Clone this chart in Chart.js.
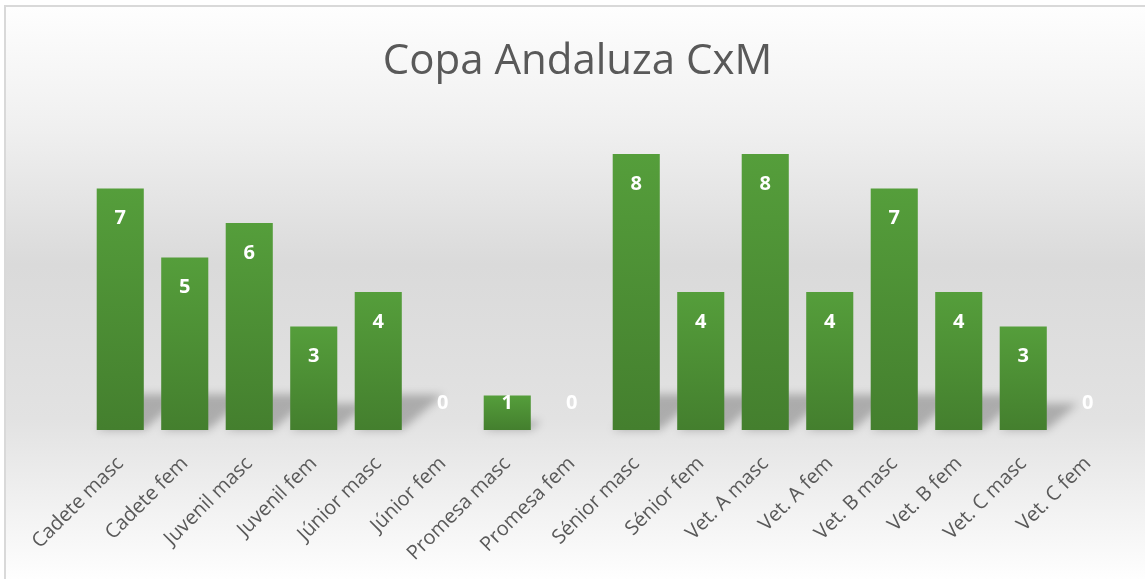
<!DOCTYPE html>
<html>
<head>
<meta charset="utf-8">
<script src="https://cdn.jsdelivr.net/npm/chart.js@4.4.1/dist/chart.umd.min.js"></script>
<style>
html,body{margin:0;padding:0;background:#fff;}
#wrap{position:relative;width:1145px;height:579px;}
</style>
</head>
<body>
<div id="wrap"><canvas id="c" width="1145" height="579"></canvas></div>
<script>
const categories = ["Cadete masc","Cadete fem","Juvenil masc","Juvenil fem","Júnior masc","Júnior fem","Promesa masc","Promesa fem","Sénior masc","Sénior fem","Vet. A masc","Vet. A fem","Vet. B masc","Vet. B fem","Vet. C masc","Vet. C fem"];
const values = [7,5,6,3,4,0,1,0,8,4,8,4,7,4,3,0];
const chartTitle = "Copa Andaluza CxM";

const bgPlugin = {
  id: 'bg',
  beforeDraw(chart){
    const c = chart.ctx, w = chart.width, h = chart.height;
    c.save();
    c.fillStyle = '#ffffff';
    c.fillRect(0,0,w,h);
    const g = c.createLinearGradient(0,7,0,h);
    g.addColorStop(0,'#fefefe');
    g.addColorStop(0.22,'#efefef');
    g.addColorStop(0.45,'#dadada');
    g.addColorStop(0.72,'#e2e2e2');
    g.addColorStop(1,'#fefefe');
    c.fillStyle = g;
    c.fillRect(6,7,w,h);
    c.strokeStyle = '#d9d9d9';
    c.lineWidth = 2;
    c.strokeRect(5,6,w+10,h+10);
    c.restore();
  }
};

const shadowPlugin = {
  id: 'barShadow',
  beforeDatasetsDraw(chart){
    const c = chart.ctx;
    const meta = chart.getDatasetMeta(0);
    c.save();
    c.filter = 'blur(4px)';
    c.fillStyle = 'rgba(0,0,0,0.24)';
    meta.data.forEach((bar)=>{
      const hgt = bar.base - bar.y;
      if (hgt < 1) return;
      const half = bar.width/2;
      const left = bar.x - half, right = bar.x + half;
      const k = Math.min(hgt*0.3, 42);
      c.beginPath();
      c.moveTo(left, bar.base);
      c.lineTo(right, bar.base);
      c.lineTo(right + k, bar.base - k*0.85);
      c.lineTo(left + k, bar.base - k*0.85);
      c.closePath();
      c.fill();
    });
    c.restore();
  }
};

const labelPlugin = {
  id: 'vlabels',
  afterDatasetsDraw(chart){
    const c = chart.ctx;
    const meta = chart.getDatasetMeta(0);
    c.save();
    c.fillStyle = '#ffffff';
    c.font = 'bold 20px "Open Sans"';
    c.textAlign = 'center';
    c.textBaseline = 'middle';
    meta.data.forEach((bar,i)=>{
      const y = Math.min(bar.y + 30, bar.base - 27);
      c.fillText(String(values[i]), bar.x, y);
    });
    c.restore();
  }
};

new Chart(document.getElementById('c'), {
  type: 'bar',
  data: {
    labels: categories,
    datasets: [{
      data: values,
      backgroundColor(ctx){
        const chart = ctx.chart;
        const ys = chart.scales && chart.scales.y;
        if (!ys || ctx.parsed === undefined || !chart.chartArea) return '#4a8b32';
        const top = ys.getPixelForValue(ctx.parsed.y);
        const bot = ys.getPixelForValue(0);
        if (bot - top < 1) return '#4a8b32';
        const g = chart.ctx.createLinearGradient(0, top, 0, bot);
        g.addColorStop(0,'#559e3b');
        g.addColorStop(1,'#447f2e');
        return g;
      },
      borderWidth: 0,
      barPercentage: 0.73,
      categoryPercentage: 1.0
    }]
  },
  options: {
    responsive: false,
    animation: false,
    layout: { padding: { left: 10, right: 0, top: 0, bottom: 0 } },
    plugins: {
      legend: { display: false },
      tooltip: { enabled: false },
      title: {
        display: true,
        text: chartTitle,
        color: '#595959',
        font: { family: '"Open Sans"', size: 42, weight: 'normal', lineHeight: 1.2 },
        padding: { top: 37, bottom: 32 }
      }
    },
    scales: {
      y: {
        display: true, min: 0, max: 9,
        grid: { display: false }, border: { display: false },
        ticks: { display: false },
        afterFit(scale){ scale.width = 78; }
      },
      y2: {
        display: true, position: 'right', min: 0, max: 9,
        grid: { display: false }, border: { display: false },
        ticks: { display: false },
        afterFit(scale){ scale.width = 25; }
      },
      x: {
        grid: { display: false },
        border: { display: false },
        ticks: {
          color: '#595959',
          font: { family: '"Open Sans"', size: 20 },
          minRotation: 45, maxRotation: 45,
          padding: 14
        },
        afterFit(scale){ scale.height = 149; }
      }
    }
  },
  plugins: [bgPlugin, shadowPlugin, labelPlugin]
});
</script>
</body>
</html>
